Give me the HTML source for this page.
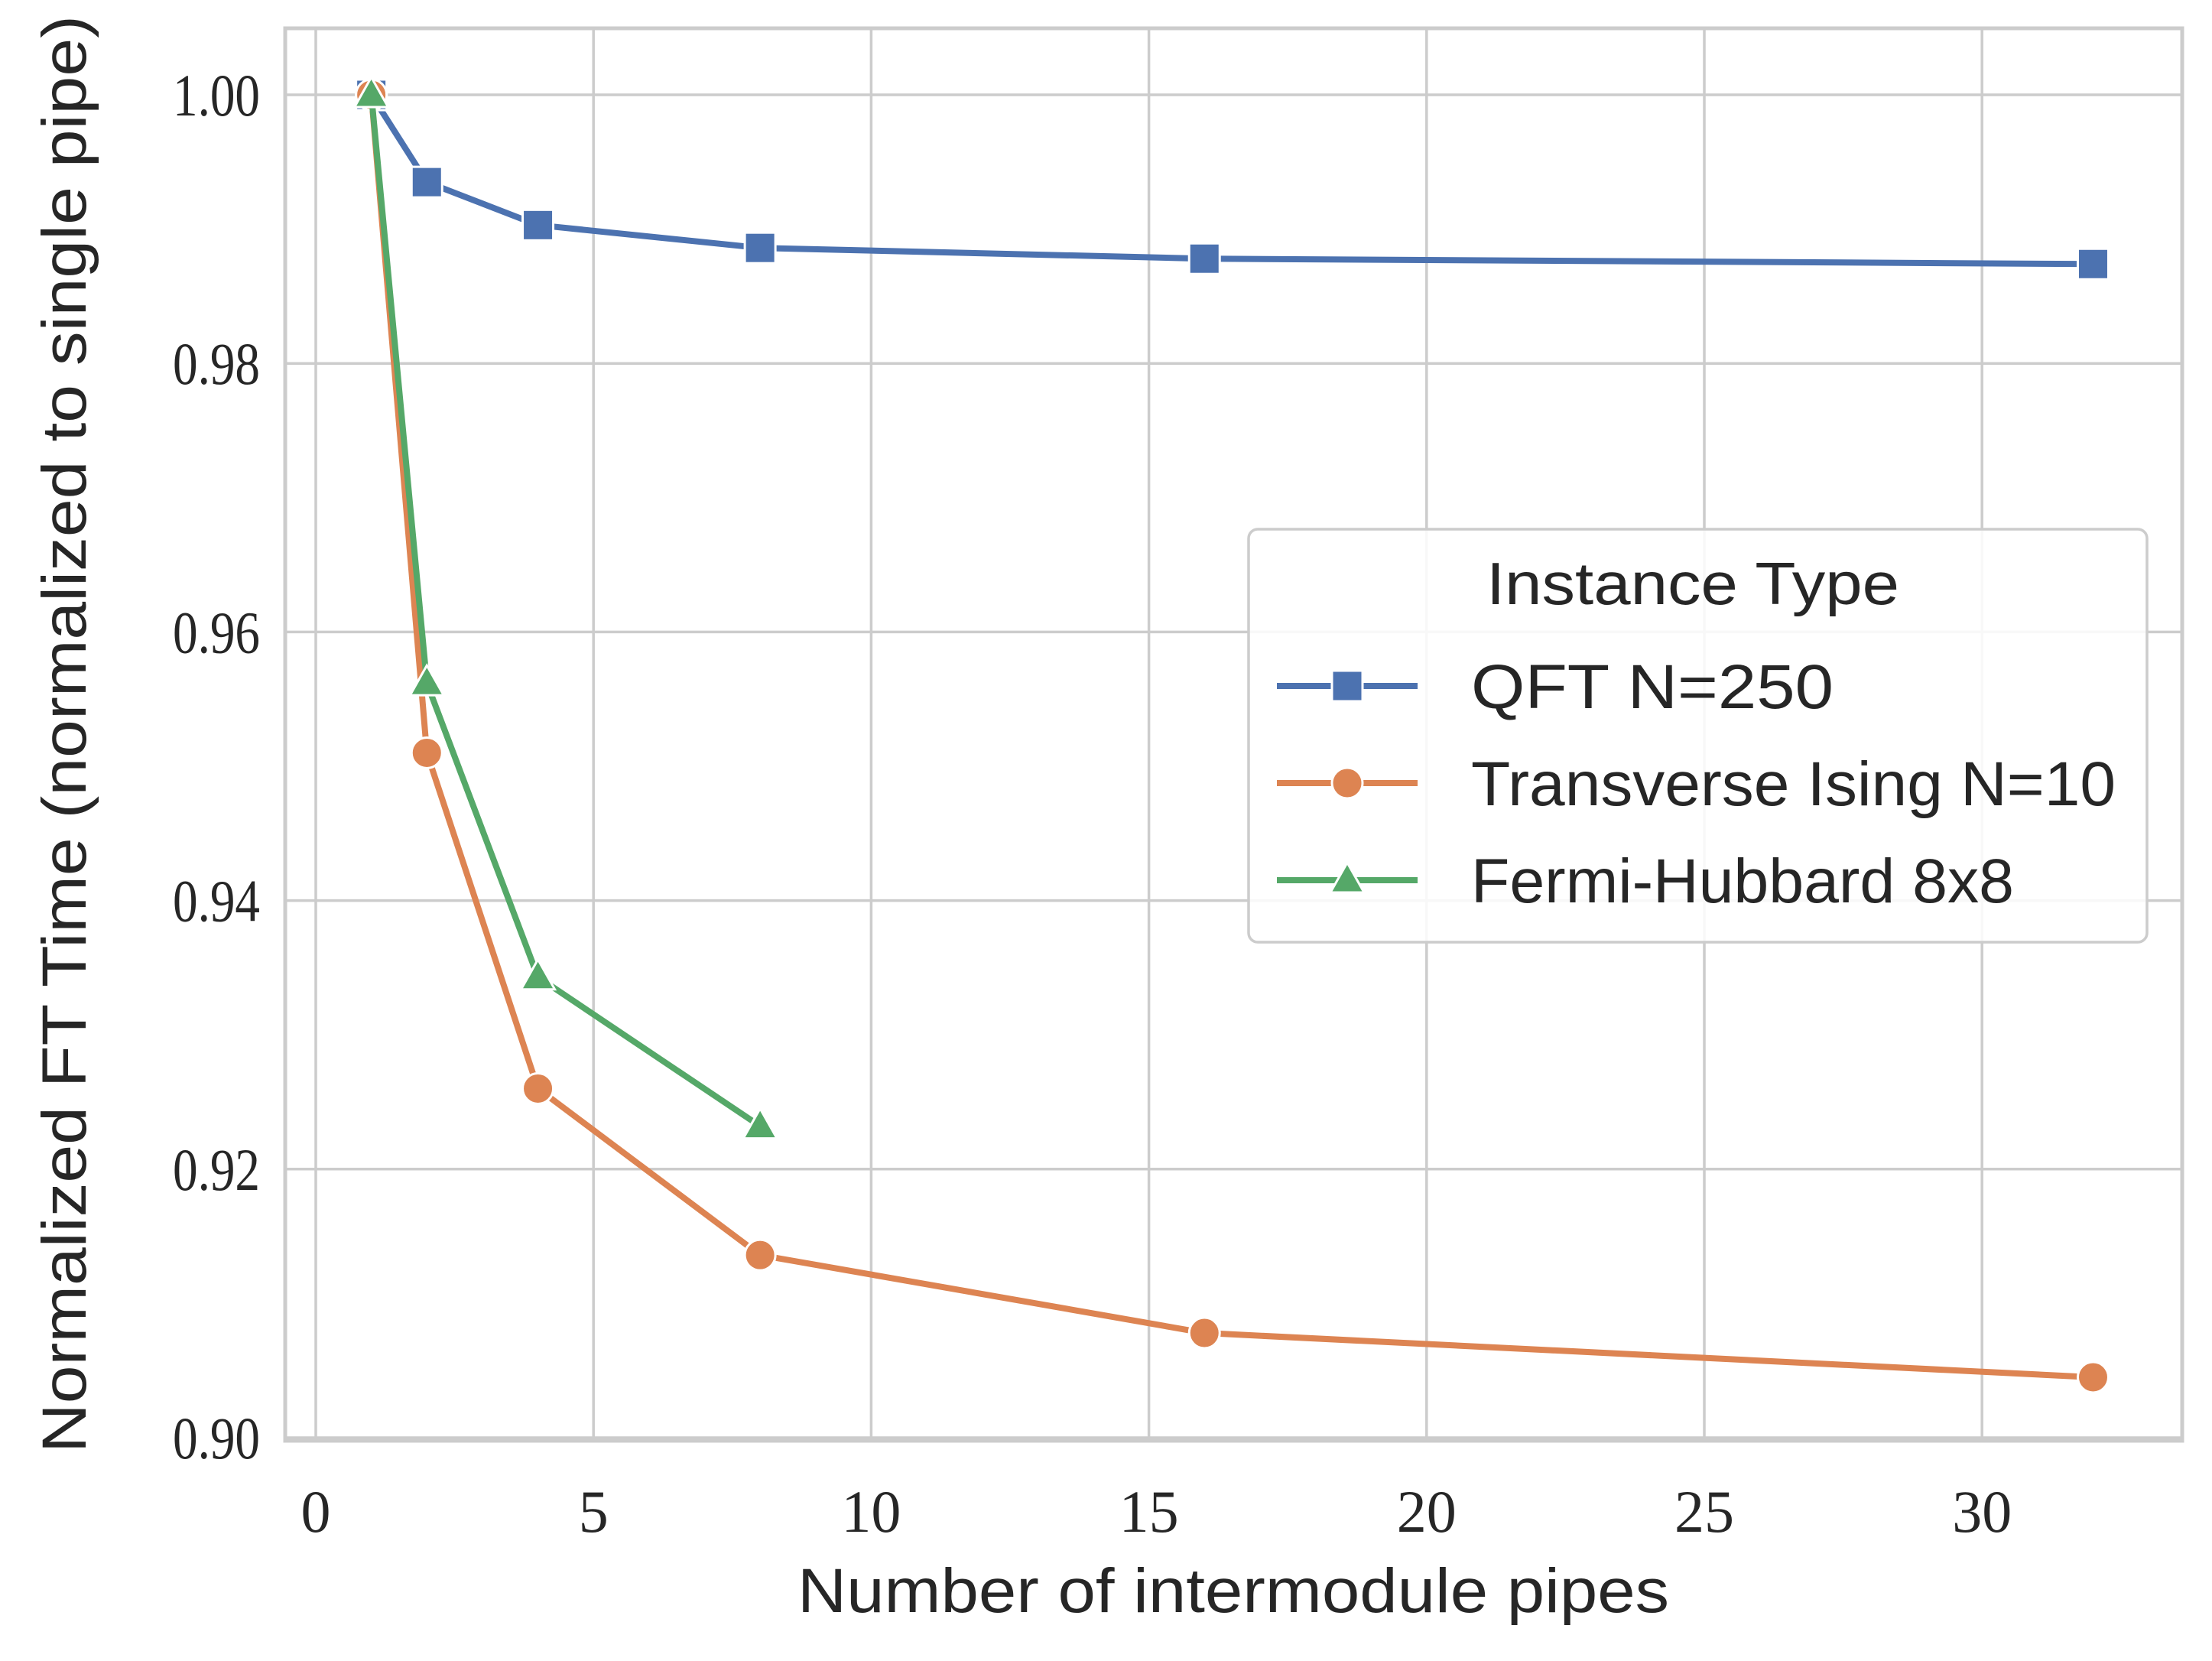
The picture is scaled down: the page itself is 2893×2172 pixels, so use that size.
<!DOCTYPE html>
<html><head><meta charset="utf-8"><style>
html,body{margin:0;padding:0;background:#fff;}
svg{display:block;}
</style></head><body>
<svg id="chart" width="2893" height="2172" viewBox="0 0 2893 2172" xmlns="http://www.w3.org/2000/svg">
<rect x="0" y="0" width="2893" height="2172" fill="#fff"/>
<g id="grid"></g>
<g id="series"></g>
<rect x="373" y="37" width="2481" height="1847" fill="none" stroke="#cccccc" stroke-width="5"/>
<g id="ticks"></g>
<text x="1613" y="2108" font-family="Liberation Sans, sans-serif" font-size="82" fill="#262626" text-anchor="middle" textLength="1140" lengthAdjust="spacingAndGlyphs">Number of intermodule pipes</text>
<text transform="translate(112,960) rotate(-90)" font-family="Liberation Sans, sans-serif" font-size="82" fill="#262626" text-anchor="middle" textLength="1880" lengthAdjust="spacingAndGlyphs">Normalized FT Time (normalized to single pipe)</text>
<g id="legend">
<rect x="1633" y="692" width="1175" height="540" rx="12" fill="#fff" fill-opacity="0.85" stroke="#cccccc" stroke-width="3.5"/>
<text x="2214" y="790" font-family="Liberation Sans, sans-serif" font-size="78" fill="#262626" text-anchor="middle" textLength="540" lengthAdjust="spacingAndGlyphs">Instance Type</text>
</g>
</svg>
<script>
const categories = [1, 2, 4, 8, 16, 32];
const qftValues = [1.0, 0.9935, 0.9903, 0.9886, 0.9878, 0.9874];
const isingValues = [1.0, 0.951, 0.926, 0.9136, 0.9078, 0.9045];
const fermiValues = [1.0, 0.9562, 0.9343, 0.9232];
const xTicks = [0, 5, 10, 15, 20, 25, 30];
const yTicks = [0.90, 0.92, 0.94, 0.96, 0.98, 1.00];
const seriesNames = ["QFT N=250", "Transverse Ising N=10", "Fermi-Hubbard 8x8"];
const legendWidths = [474, 843, 710];

const NS = "http://www.w3.org/2000/svg";
function xs(v){ return 413 + v * 72.64; }
function ys(v){ return 1880 - (v - 0.90) * 17560; }
function mk(tag, attrs, parent){ const e = document.createElementNS(NS, tag); for (const k in attrs) e.setAttribute(k, attrs[k]); parent.appendChild(e); return e; }

const grid = document.getElementById('grid');
const ticks = document.getElementById('ticks');
xTicks.forEach(t => {
  const l = mk('line', {x1: xs(t), x2: xs(t), y1: 37, y2: 1884, stroke: '#cccccc', 'stroke-width': 3.5}, grid);
  
  
  const tx = mk('text', {x: xs(t), y: 2003, 'font-family': 'Liberation Serif, serif', 'font-size': 78, fill: '#262626', 'text-anchor': 'middle'}, ticks);
  tx.textContent = String(t);
  
  
});
yTicks.forEach(t => {
  const l = mk('line', {x1: 373, x2: 2854, y1: ys(t), y2: ys(t), stroke: '#cccccc', 'stroke-width': 3.5}, grid);
  
  
  const tx = mk('text', {x: 340, y: ys(t) + 27, 'font-family': 'Liberation Serif, serif', 'font-size': 78, fill: '#262626', 'text-anchor': 'end', textLength: 114, lengthAdjust: 'spacingAndGlyphs'}, ticks);
  tx.textContent = t.toFixed(2);
  
  
});

function marker(kind, cx, cy, color, parent){
  let e;
  if (kind === 'square') e = mk('rect', {x: cx - 20, y: cy - 20, width: 40, height: 40}, parent);
  else if (kind === 'circle') e = mk('circle', {cx: cx, cy: cy, r: 20}, parent);
  else e = mk('polygon', {points: `${cx},${cy-23} ${cx+22},${cy+16} ${cx-22},${cy+16}`}, parent);
  e.setAttribute('fill', color); e.setAttribute('stroke', '#fff'); e.setAttribute('stroke-width', 3);
  return e;
}

const seriesG = document.getElementById('series');
const legend = document.getElementById('legend');
const defs = [
  {vals: qftValues, color: '#4c72b0', kind: 'square', key: 'qft'},
  {vals: isingValues, color: '#dd8452', kind: 'circle', key: 'ising'},
  {vals: fermiValues, color: '#55a868', kind: 'triangle', key: 'fermi'}
];
defs.forEach((s, i) => {
  const g = mk('g', {}, seriesG);
  
  
  const pts = s.vals.map((v, j) => xs(categories[j]) + ',' + ys(v)).join(' ');
  const pl = mk('polyline', {points: pts, fill: 'none', stroke: s.color, 'stroke-width': 8, 'stroke-linejoin': 'round', 'stroke-linecap': 'round'}, g);
  
  
  s.vals.forEach((v, j) => {
    const m = marker(s.kind, xs(categories[j]), ys(v), s.color, g);
    
    
  });
  const ly = 897 + i * 127;
  const le = mk('g', {}, legend);
  
  
  mk('line', {x1: 1670, x2: 1854, y1: ly, y2: ly, stroke: s.color, 'stroke-width': 8}, le);
  marker(s.kind, 1762, ly, s.color, le);
  const t = mk('text', {x: 1924, y: ly + 29, 'font-family': 'Liberation Sans, sans-serif', 'font-size': 82, fill: '#262626', textLength: legendWidths[i], lengthAdjust: 'spacingAndGlyphs'}, le);
  t.textContent = seriesNames[i];
});
</script>
</body></html>
